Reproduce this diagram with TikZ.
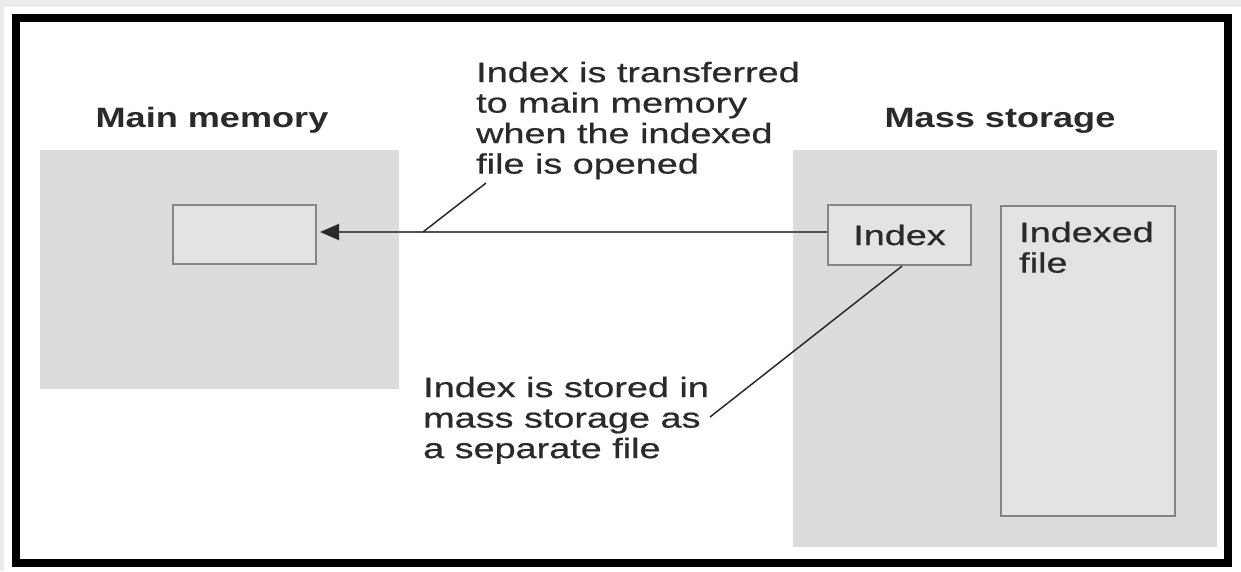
\documentclass[tikz,border=0pt]{standalone}
\usepackage{fontspec}
\setmainfont{Liberation Sans}
\newfontfamily\txtfont[FakeStretch=1.35,FakeBold=0.6]{Liberation Sans}
\newfontfamily\lblfont[FakeStretch=1.29]{Liberation Sans}
\usetikzlibrary{arrows.meta}
\definecolor{regiongray}{HTML}{DCDCDC}
\definecolor{boxgray}{HTML}{E3E3E3}
\definecolor{edgegray}{HTML}{858585}
\definecolor{inkgray}{HTML}{2A2A2A}
\definecolor{linegray}{HTML}{505050}
\definecolor{stripgray}{HTML}{EBEBEB}
\tikzset{
  region/.style={fill=regiongray, draw=none, inner sep=0pt},
  filebox/.style={fill=boxgray, draw=edgegray, line width=2.2pt, inner sep=0pt},
  note/.style={font=\txtfont\fontsize{28}{30.5}\selectfont, text=inkgray, align=left, inner sep=0pt, anchor=north west},
  heading/.style={font=\lblfont\bfseries\fontsize{28}{30.5}\selectfont, text=inkgray, inner sep=0pt, anchor=base},
  leader/.style={draw=inkgray, line width=1.5pt},
  transfer/.style={draw=linegray, line width=2pt, -{Triangle[length=19pt,width=16pt,fill=inkgray,color=inkgray]}}
}
\begin{document}
\begin{tikzpicture}[x=1pt,y=-1pt]
\useasboundingbox (0,0) rectangle (1241,571);
\fill[white] (0,0) rectangle (1241,571);
\fill[stripgray] (0,0) rectangle (1241,7);
\fill[stripgray] (0,0) rectangle (4,571);
\draw[line width=8pt, black] (15.5,18) rectangle (1228,563);

% regions
\node[region, minimum width=359pt, minimum height=239pt] (mm) at (219.5,269.5) {};
\node[region, minimum width=424pt, minimum height=397pt] (ms) at (1005,348.5) {};

% headings
\node[heading] (mmlbl) at (212,127) {Main memory};
\node[heading] (mslbl) at (1000,127) {Mass storage};

% boxes
\node[filebox, minimum width=143pt, minimum height=59pt] (mmbox) at (244.5,234.5) {};
\node[filebox, minimum width=143pt, minimum height=60pt, font=\txtfont\fontsize{28}{30.5}\selectfont, text=inkgray] (idx) at (899.5,235) {Index};
\node[filebox, minimum width=174pt, minimum height=310pt] (ifile) at (1088,361) {};
\node[note] (ifilelbl) at (1019,221.6) {Indexed\\file};

% transfer arrow
\draw[transfer, shorten >=3pt] ([yshift=3pt]idx.west) -- ([yshift=2.5pt]mmbox.east);
\coordinate (t1) at (423,232);

% notes
\node[note] (topnote) at (476,61.6) {Index is transferred\\to main memory\\when the indexed\\file is opened};
\node[note] (botnote) at (423,376.6) {Index is stored in\\mass storage as\\a separate file};

\coordinate (t2) at (486,183);
\draw[leader] (t2) -- (t1);
\coordinate (b2) at (710,417);
\draw[leader] ([xshift=2.5pt]idx.south) -- (b2);
\end{tikzpicture}
\end{document}
